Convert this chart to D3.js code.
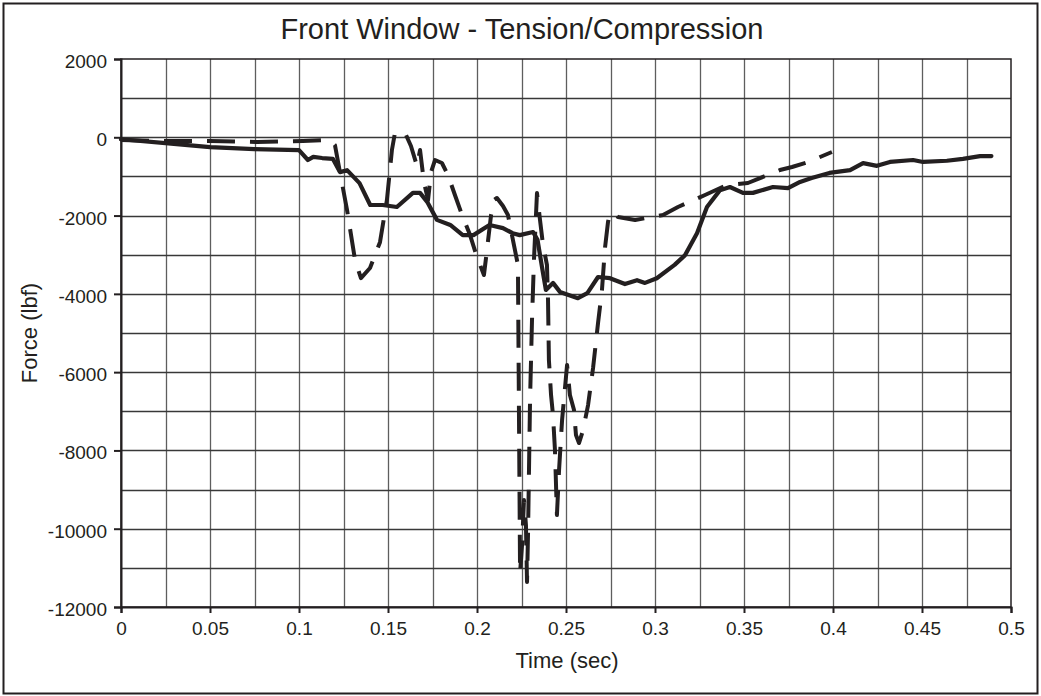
<!DOCTYPE html>
<html>
<head>
<meta charset="utf-8">
<script src="https://cdn.jsdelivr.net/npm/d3@7"></script>
<style>
  html, body { margin: 0; padding: 0; background: #fff; }
  svg { display: block; }
  text { font-family: "Liberation Sans", Arial, sans-serif; fill: #231f20; }
</style>
</head>
<body>
<svg id="chart" width="1041" height="696"></svg>
<script>
// ---- data ----
const title = "Front Window - Tension/Compression";
const xLabel = "Time (sec)";
const yLabel = "Force (lbf)";
const xTickValues = [0, 0.05, 0.1, 0.15, 0.2, 0.25, 0.3, 0.35, 0.4, 0.45, 0.5];
const xTickLabels = ["0", "0.05", "0.1", "0.15", "0.2", "0.25", "0.3", "0.35", "0.4", "0.45", "0.5"];
const yTickValues = [2000, 0, -2000, -4000, -6000, -8000, -10000, -12000];
const yTickLabels = ["2000", "0", "-2000", "-4000", "-6000", "-8000", "-10000", "-12000"];

// solid series
const solidTime = [0, 0.025, 0.05, 0.075, 0.1, 0.105, 0.108, 0.113, 0.119, 0.123, 0.127, 0.134, 0.140, 0.147, 0.155,
  0.164, 0.168, 0.172, 0.1775, 0.185, 0.192, 0.198, 0.207, 0.2146, 0.220, 0.224, 0.2315, 0.234, 0.2365, 0.2387,
  0.2427, 0.2466, 0.2567, 0.262, 0.268, 0.2747, 0.2831, 0.2899, 0.2944, 0.301, 0.311, 0.3169, 0.3236, 0.3292,
  0.3365, 0.3421, 0.3494, 0.355, 0.3663, 0.3747, 0.3815, 0.388, 0.398, 0.4096, 0.4169, 0.4247, 0.432, 0.445,
  0.4506, 0.464, 0.473, 0.4826, 0.489];
const solidForce = [-50, -150, -250, -300, -330, -580, -500, -530, -550, -890, -840, -1170, -1730, -1730, -1780,
  -1420, -1420, -1650, -2110, -2240, -2500, -2500, -2240, -2320, -2450, -2500, -2420, -2620, -3310, -3900,
  -3720, -3950, -4110, -3980, -3570, -3600, -3750, -3650, -3720, -3600, -3260, -3010, -2450, -1780,
  -1350, -1270, -1420, -1420, -1270, -1300, -1140, -1040, -910, -840, -660, -730, -630, -580,
  -630, -600, -550, -480, -480];

// dashed series
const dashTime = [0, 0.0247, 0.05, 0.0764, 0.1022, 0.1152, 0.1185, 0.1202, 0.123, 0.127, 0.1315, 0.1348, 0.1399,
  0.1455, 0.1494, 0.1522, 0.1539, 0.1567, 0.1601, 0.1629, 0.1663, 0.168, 0.1702, 0.1725, 0.1742, 0.1764, 0.1803,
  0.1837, 0.1876, 0.1916, 0.1961, 0.2, 0.2039, 0.2056, 0.2079, 0.2096, 0.2112, 0.2146, 0.2174, 0.2202, 0.223,
  0.2242, 0.2253, 0.2264, 0.2275, 0.2281, 0.2287, 0.2298, 0.2309, 0.232, 0.2337, 0.2354, 0.2371, 0.2393, 0.2399,
  0.2404, 0.2416, 0.2427, 0.2438, 0.2449, 0.2461, 0.2478, 0.2506, 0.2522, 0.2545, 0.2556, 0.2573, 0.2596, 0.2624,
  0.2652, 0.268, 0.2702, 0.2719, 0.2736, 0.2747, 0.2775, 0.2792, 0.2888, 0.3045, 0.3129, 0.3281, 0.3404, 0.3522,
  0.3702, 0.377, 0.386, 0.3994];
const dashForce = [-70, -95, -95, -120, -95, -70, -120, -200, -890, -1860, -3140, -3600, -3340,
  -2680, -1600, -325, 110, 160, 60, -223, -734, -325, -1143, -1603, -887, -581, -657,
  -964, -1475, -1986, -2497, -3059, -3519, -2880, -1986, -1603, -1551, -1756, -1986, -2625, -3263,
  -11133, -10417, -9268, -9906, -11363, -10034, -6713, -4669, -3136, -1424, -2114, -2752, -3263, -4158,
  -5691, -6585, -7096, -7990, -9651, -8501, -7224, -5818, -6585, -6968, -7607, -7811, -7479, -6840,
  -5895, -4745, -3902, -2829, -2165, -1935, -1960, -2037, -2114, -1986, -1781, -1475, -1219, -1168,
  -836, -759, -632, -376];

// ---- chart ----
const svg = d3.select("#chart");
const ink = "#231f20";
const pLeft = 121, pRight = 1011, pTop = 59, pBottom = 607;

const x = d3.scaleLinear().domain([0, 0.5]).range([pLeft, pRight]);
const y = d3.scaleLinear().domain([-12000, 2000]).range([pBottom, pTop]);

// outer border
svg.append("rect").attr("x", 3.5).attr("y", 3.5).attr("width", 1034).attr("height", 690)
  .attr("fill", "none").attr("stroke", ink).attr("stroke-width", 2);

// gridlines
const g = svg.append("g");
g.selectAll("line.vg").data(d3.range(1, 20).map(i => i * 0.025)).enter().append("line")
  .attr("x1", d => Math.round(x(d)) + 0.5).attr("x2", d => Math.round(x(d)) + 0.5)
  .attr("y1", pTop).attr("y2", pBottom).attr("stroke", "#5e5e5e").attr("stroke-width", 1.3);
g.selectAll("line.hg").data(d3.range(-11000, 2000, 1000)).enter().append("line")
  .attr("y1", d => Math.round(y(d)) + 0.5).attr("y2", d => Math.round(y(d)) + 0.5)
  .attr("x1", pLeft).attr("x2", pRight).attr("stroke", "#383838").attr("stroke-width", 1.3);

// plot frame
svg.append("rect").attr("x", pLeft).attr("y", pTop).attr("width", pRight - pLeft).attr("height", pBottom - pTop)
  .attr("fill", "none").attr("stroke", ink).attr("stroke-width", 1.5);

// axes
const xAxis = d3.axisBottom(x).tickValues(xTickValues).tickSize(6).tickPadding(9)
  .tickFormat((d, i) => xTickLabels[i]);
const yAxis = d3.axisLeft(y).tickValues(yTickValues).tickSize(7).tickPadding(7)
  .tickFormat((d, i) => yTickLabels[i]);

const gx = svg.append("g").attr("transform", `translate(0,${pBottom})`).call(xAxis);
const gy = svg.append("g").attr("transform", `translate(${pLeft},0)`).call(yAxis);
[gx, gy].forEach(a => {
  a.select(".domain").attr("stroke", ink).attr("stroke-width", 2);
  a.selectAll(".tick line").attr("stroke", ink).attr("stroke-width", 2);
  a.selectAll(".tick text").attr("fill", ink).style("font-size", "19px")
    .style("font-family", '"Liberation Sans", Arial, sans-serif');
});
gy.selectAll(".tick text").attr("dy", "0.45em");

// lines
const line = d3.line().x(d => x(d[0])).y(d => y(d[1]));
const solidData = solidTime.map((t, i) => [t, solidForce[i]]);
const dashData = dashTime.map((t, i) => [t, dashForce[i]]);

svg.append("path").datum(solidData).attr("d", line)
  .attr("fill", "none").attr("stroke", ink).attr("stroke-width", 4.2)
  .attr("stroke-linejoin", "round").attr("stroke-linecap", "round");
svg.append("path").datum(dashData).attr("d", line)
  .attr("fill", "none").attr("stroke", ink).attr("stroke-width", 4)
  .attr("stroke-dasharray", "28,15").attr("stroke-linejoin", "round");

// titles
svg.append("text").attr("x", 522).attr("y", 39).attr("text-anchor", "middle")
  .style("font-size", "29px").text(title);
svg.append("text").attr("x", (pLeft + pRight) / 2 + 1).attr("y", 668).attr("text-anchor", "middle")
  .style("font-size", "22px").text(xLabel);
svg.append("text").attr("transform", `translate(37,${(pTop + pBottom) / 2}) rotate(-90)`)
  .attr("text-anchor", "middle").style("font-size", "22px").text(yLabel);
</script>
</body>
</html>
